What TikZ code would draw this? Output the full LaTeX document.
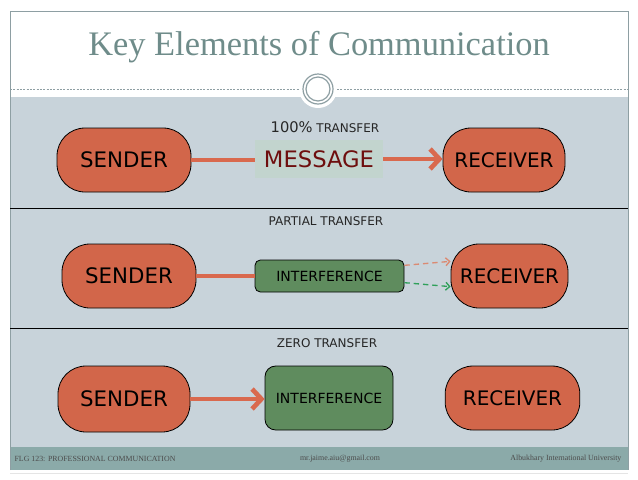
\documentclass[tikz,border=0pt]{standalone}
\usepackage{fontspec}
\setmainfont{Liberation Serif}
\newfontfamily\boxfont{DejaVu Sans}
\usetikzlibrary{arrows.meta}

\definecolor{slidegrey}{HTML}{C8D3DA}
\definecolor{footteal}{HTML}{8BAAA9}
\definecolor{titleteal}{HTML}{6F8C8A}
\definecolor{framegrey}{HTML}{8E9FA3}
\definecolor{partyfill}{HTML}{D2664A}
\definecolor{flowline}{HTML}{D9694E}
\definecolor{msgfill}{HTML}{C2D4CE}
\definecolor{msgtext}{HTML}{6E0E0E}
\definecolor{noisefill}{HTML}{5F8C5E}
\definecolor{dashred}{HTML}{DB8A72}
\definecolor{dashgreen}{HTML}{2FA05A}

\tikzset{
  party/.style={draw=black, line width=0.6pt, fill=partyfill, rounded corners=21pt,
    minimum height=48pt, inner sep=0pt},
  sendbox/.style={party, font=\boxfont\fontsize{16}{18}\selectfont},
  recvbox/.style={party, font=\boxfont\fontsize{15}{17}\selectfont},
  noisebox/.style={draw=black, line width=0.6pt, fill=noisefill, inner sep=0pt,
    font=\boxfont\fontsize{10.5}{12}\selectfont},
  caption/.style={font=\boxfont\fontsize{9}{11}\selectfont, text=black!85},
  flow/.style={draw=flowline, line width=3.5pt},
  flowarrow/.style={flow, -{Straight Barb[length=7pt,width=15pt]}},
  leak/.style={line width=1pt, dash pattern=on 4pt off 3pt, -{Straight Barb[length=3pt,width=6pt]}},
  footer/.style={font=\fontsize{5.9}{7}\selectfont, text=black!70, inner sep=1pt}
}

\begin{document}
\begin{tikzpicture}[x=0.75pt,y=-0.75pt]
    \path[use as bounding box, fill=white] (0,0) rectangle (638,479);

    % Slide
    \fill[slidegrey] (10,97) rectangle (628,447);
    \fill[footteal] (10,447) rectangle (628,470);
    \draw[framegrey, line width=0.6pt] (10,470) -- (10,11) -- (628,11) -- (628,470);
    \draw[black!10] (10,473) -- (628,473);

    % Title
    \node[font=\fontsize{25.8}{30}\selectfont, text=titleteal] (title) at (319,47)
        {Key Elements of Communication};
    \draw[framegrey, line width=0.4pt, dash pattern=on 1.5pt off 1pt]
        (10,89) -- (300,89) (337,89) -- (628,89);
    \fill[white] (318,89) circle (19);
    \draw[framegrey, line width=0.9pt] (318,89) circle (15) (318,89) circle (12);

    % Rows
    \draw[black, line width=0.6pt] (10,208) -- (628,208) (10,328) -- (628,328);

    % 100% transfer
    \node[font=\boxfont\fontsize{9}{11}\selectfont, text=black!85] (cap1) at (325,127)
        {{\fontsize{11}{11}\selectfont 100\%} TRANSFER};
    \node[sendbox, minimum width=100.5pt] (send1) at (124,160) {SENDER};
    \node[fill=msgfill, minimum width=96pt, minimum height=28.5pt, inner sep=0pt,
        font=\boxfont\fontsize{17}{19}\selectfont, text=msgtext] (msg) at (319,159) {MESSAGE};
    \node[recvbox, minimum width=91.5pt] (recv1) at (504,160) {RECEIVER};
    \draw[flow] (send1.east) -- (msg.west |- send1.east);
    \draw[flowarrow] (msg.east) -- (recv1.west |- msg.east);

    % Partial transfer
    \node[caption] (cap2) at (326,221) {PARTIAL TRANSFER};
    \node[sendbox, minimum width=100.5pt] (send2) at (129,276) {SENDER};
    \node[noisebox, rounded corners=4pt, minimum width=111.75pt, minimum height=24pt]
        (noise2) at (329.5,276) {INTERFERENCE};
    \node[recvbox, minimum width=87.75pt] (recv2) at (509.5,276) {RECEIVER};
    \draw[flow] (send2.east) -- (noise2.west);
    \draw[leak, dashred] ([yshift=8pt]noise2.east) -- ([yshift=11pt]recv2.west);
    \draw[leak, dashgreen] ([yshift=-5pt]noise2.east) -- ([yshift=-8pt]recv2.west);

    % Zero transfer
    \node[caption] (cap3) at (327,343) {ZERO TRANSFER};
    \node[sendbox, minimum width=99pt, minimum height=49.5pt] (send3) at (124,399) {SENDER};
    \node[noisebox, rounded corners=8pt, minimum width=96pt, minimum height=48pt]
        (noise3) at (329,398) {INTERFERENCE};
    \node[recvbox, minimum width=101pt] (recv3) at (512.5,398) {RECEIVER};
    \draw[flowarrow] (send3.east) -- (noise3.west |- send3.east);

    % Footer
    \node[footer, anchor=west] (course) at (13,459) {FLG 123: PROFESSIONAL COMMUNICATION};
    \node[footer] (mail) at (340,459) {mr.jaime.aiu@gmail.com};
    \node[footer, anchor=east] (uni) at (623,459) {Albukhary International University};
  \end{tikzpicture}
\end{document}
